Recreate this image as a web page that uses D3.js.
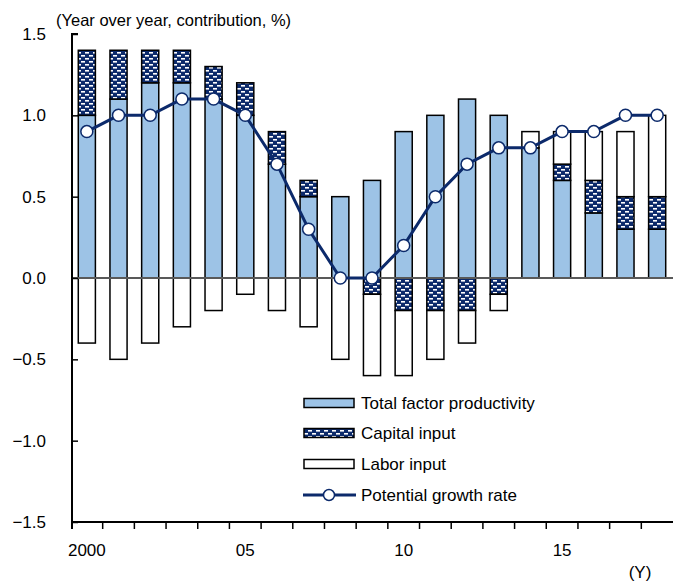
<!DOCTYPE html>
<html>
<head>
<meta charset="utf-8">
<script src="https://cdn.jsdelivr.net/npm/d3@7"></script>
<style>
  html, body { margin: 0; padding: 0; background: #fff; }
  svg { display: block; font-family: "Liberation Sans", Arial, sans-serif; }
</style>
</head>
<body>
<svg id="chart" width="673" height="583"></svg>
<script>
// Fiscal years shown on the horizontal axis
const years = [2000, 2001, 2002, 2003, 2004, 2005, 2006, 2007, 2008, 2009,
               2010, 2011, 2012, 2013, 2014, 2015, 2016, 2017, 2018];
// Contributions to potential growth (percentage points)
const tfp     = [1.0, 1.1, 1.2, 1.2, 1.1, 1.0, 0.7, 0.5, 0.5, 0.6,
                 0.9, 1.0, 1.1, 1.0, 0.8, 0.6, 0.4, 0.3, 0.3];
const capital = [0.4, 0.3, 0.2, 0.2, 0.2, 0.2, 0.2, 0.1, 0.0, -0.1,
                 -0.2, -0.2, -0.2, -0.1, 0.0, 0.1, 0.2, 0.2, 0.2];
const labor   = [-0.4, -0.5, -0.4, -0.3, -0.2, -0.1, -0.2, -0.3, -0.5, -0.5,
                 -0.4, -0.3, -0.2, -0.1, 0.1, 0.2, 0.3, 0.4, 0.5];
// Potential growth rate (year over year, %)
const potential = [0.9, 1.0, 1.0, 1.1, 1.1, 1.0, 0.7, 0.3, 0.0, 0.0,
                   0.2, 0.5, 0.7, 0.8, 0.8, 0.9, 0.9, 1.0, 1.0];
const yTicks = [-1.5, -1.0, -0.5, 0.0, 0.5, 1.0, 1.5];
const xLabelYears = [2000, 2005, 2010, 2015];
const seriesNames = ["Total factor productivity", "Capital input", "Labor input", "Potential growth rate"];

const navy = "#0c2a6b";
const lightBlue = "#9dc3e6";

const svg = d3.select("#chart");
const plot = { left: 72, right: 673, top: 34, bottom: 522 };

const x = d3.scaleBand()
  .domain(years)
  .range([plot.left - 1, plot.right])
  .paddingInner(0.46)
  .paddingOuter(0.23);
const step = x.step();

const y = d3.scaleLinear().domain([-1.5, 1.5]).range([plot.bottom, plot.top]);

// Brick-like dotted fill for the capital input
const defs = svg.append("defs");
const pat = defs.append("pattern")
  .attr("id", "capPattern")
  .attr("patternUnits", "userSpaceOnUse")
  .attr("width", 8).attr("height", 6);
pat.append("rect").attr("width", 8).attr("height", 6).attr("fill", navy);
pat.append("rect").attr("x", 1).attr("y", 1).attr("width", 4).attr("height", 1.6).attr("fill", "#fff");
pat.append("rect").attr("x", 5).attr("y", 4).attr("width", 3).attr("height", 1.6).attr("fill", "#fff");
pat.append("rect").attr("x", 0).attr("y", 4).attr("width", 1).attr("height", 1.6).attr("fill", "#fff");

// Title (runs past the top edge of the page)
svg.append("text")
  .attr("x", 370).attr("y", -5)
  .attr("text-anchor", "middle")
  .attr("font-weight", "bold")
  .attr("font-size", 24)
  .text("Chart 1: Long-term Changes in Japan's Potential Growth Rate");

// Unit note
svg.append("text")
  .attr("x", 56).attr("y", 26)
  .attr("font-size", 16.5)
  .text("(Year over year, contribution, %)");

// Stacked contributions
const rows = years.map((yr, i) => ({ year: yr, tfp: tfp[i], capital: capital[i], labor: labor[i] }));
const keys = ["tfp", "capital", "labor"];
const fills = { tfp: lightBlue, capital: "url(#capPattern)", labor: "#fff" };
const stacked = d3.stack().keys(keys).offset(d3.stackOffsetDiverging)(rows);

stacked.forEach(layer => {
  svg.append("g")
    .selectAll("rect")
    .data(layer.filter(d => d[1] - d[0] !== 0))
    .join("rect")
    .attr("x", d => x(d.data.year))
    .attr("width", x.bandwidth())
    .attr("y", d => y(Math.max(d[0], d[1])))
    .attr("height", d => Math.abs(y(d[0]) - y(d[1])))
    .attr("fill", fills[layer.key])
    .attr("stroke", "#000")
    .attr("stroke-width", 1.5);
});

// Zero line
svg.append("line")
  .attr("x1", plot.left).attr("x2", plot.right)
  .attr("y1", y(0)).attr("y2", y(0))
  .attr("stroke", "#595959").attr("stroke-width", 2);

// Potential growth line
const line = d3.line()
  .x((d, i) => x(years[i]) + x.bandwidth() / 2)
  .y(d => y(d));
svg.append("path")
  .datum(potential)
  .attr("fill", "none")
  .attr("stroke", navy)
  .attr("stroke-width", 3)
  .attr("d", line);
svg.append("g")
  .selectAll("circle")
  .data(potential)
  .join("circle")
  .attr("cx", (d, i) => x(years[i]) + x.bandwidth() / 2)
  .attr("cy", d => y(d))
  .attr("r", 6)
  .attr("fill", "#fff")
  .attr("stroke", navy)
  .attr("stroke-width", 1.5);

// Y axis with inward ticks
const yAxis = svg.append("g")
  .attr("transform", `translate(${plot.left},0)`)
  .call(d3.axisLeft(y).tickValues(yTicks).tickSize(-6).tickPadding(26)
    .tickFormat(d3.format(".1f")));
yAxis.select(".domain").attr("stroke", "#000").attr("stroke-width", 2)
  .attr("d", `M6,${plot.top}H0V${plot.bottom}`);
yAxis.selectAll(".tick line").attr("stroke", "#000").attr("stroke-width", 1.5);
yAxis.selectAll(".tick text").attr("font-size", 17).attr("fill", "#000")
  .attr("font-family", "Liberation Sans, Arial, sans-serif");

// X axis: boundary ticks between years, labels under selected years
const xg = svg.append("g").attr("transform", `translate(0,${plot.bottom})`);
xg.append("line")
  .attr("x1", plot.left - 1).attr("x2", plot.right)
  .attr("stroke", "#000").attr("stroke-width", 2);
xg.selectAll("line.tk")
  .data(years.slice(1))
  .join("line")
  .attr("class", "tk")
  .attr("x1", d => x(d) - step * x.paddingInner() / 2)
  .attr("x2", d => x(d) - step * x.paddingInner() / 2)
  .attr("y1", 0).attr("y2", 7)
  .attr("stroke", "#000").attr("stroke-width", 1.5);
xg.append("line")
  .attr("x1", plot.left).attr("x2", plot.left)
  .attr("y1", 0).attr("y2", 7)
  .attr("stroke", "#000").attr("stroke-width", 2);
xg.selectAll("text.lbl")
  .data(xLabelYears)
  .join("text")
  .attr("class", "lbl")
  .attr("x", d => x(d) + x.bandwidth() / 2)
  .attr("y", 34)
  .attr("text-anchor", "middle")
  .attr("font-size", 17)
  .text(d => d === 2000 ? "2000" : String(d % 100).padStart(2, "0"));
svg.append("text")
  .attr("x", 640).attr("y", 578)
  .attr("text-anchor", "middle")
  .attr("font-size", 17)
  .text("(Y)");

// Legend
const legend = svg.append("g").attr("transform", "translate(303,0)");
const legendRows = [403, 433, 464, 495];
const swatchFill = [lightBlue, "url(#capPattern)", "#fff"];
swatchFill.forEach((f, i) => {
  legend.append("rect")
    .attr("x", 1).attr("y", legendRows[i] - 4.5)
    .attr("width", 50).attr("height", 9)
    .attr("fill", f).attr("stroke", "#000").attr("stroke-width", 1.5);
});
legend.append("line")
  .attr("x1", 0).attr("x2", 53)
  .attr("y1", legendRows[3]).attr("y2", legendRows[3])
  .attr("stroke", navy).attr("stroke-width", 3);
legend.append("circle")
  .attr("cx", 26).attr("cy", legendRows[3]).attr("r", 5.5)
  .attr("fill", "#fff").attr("stroke", navy).attr("stroke-width", 1.5);
seriesNames.forEach((name, i) => {
  legend.append("text")
    .attr("x", 58).attr("y", legendRows[i])
    .attr("dy", "0.35em")
    .attr("font-size", 17)
    .text(name);
});
</script>
</body>
</html>
